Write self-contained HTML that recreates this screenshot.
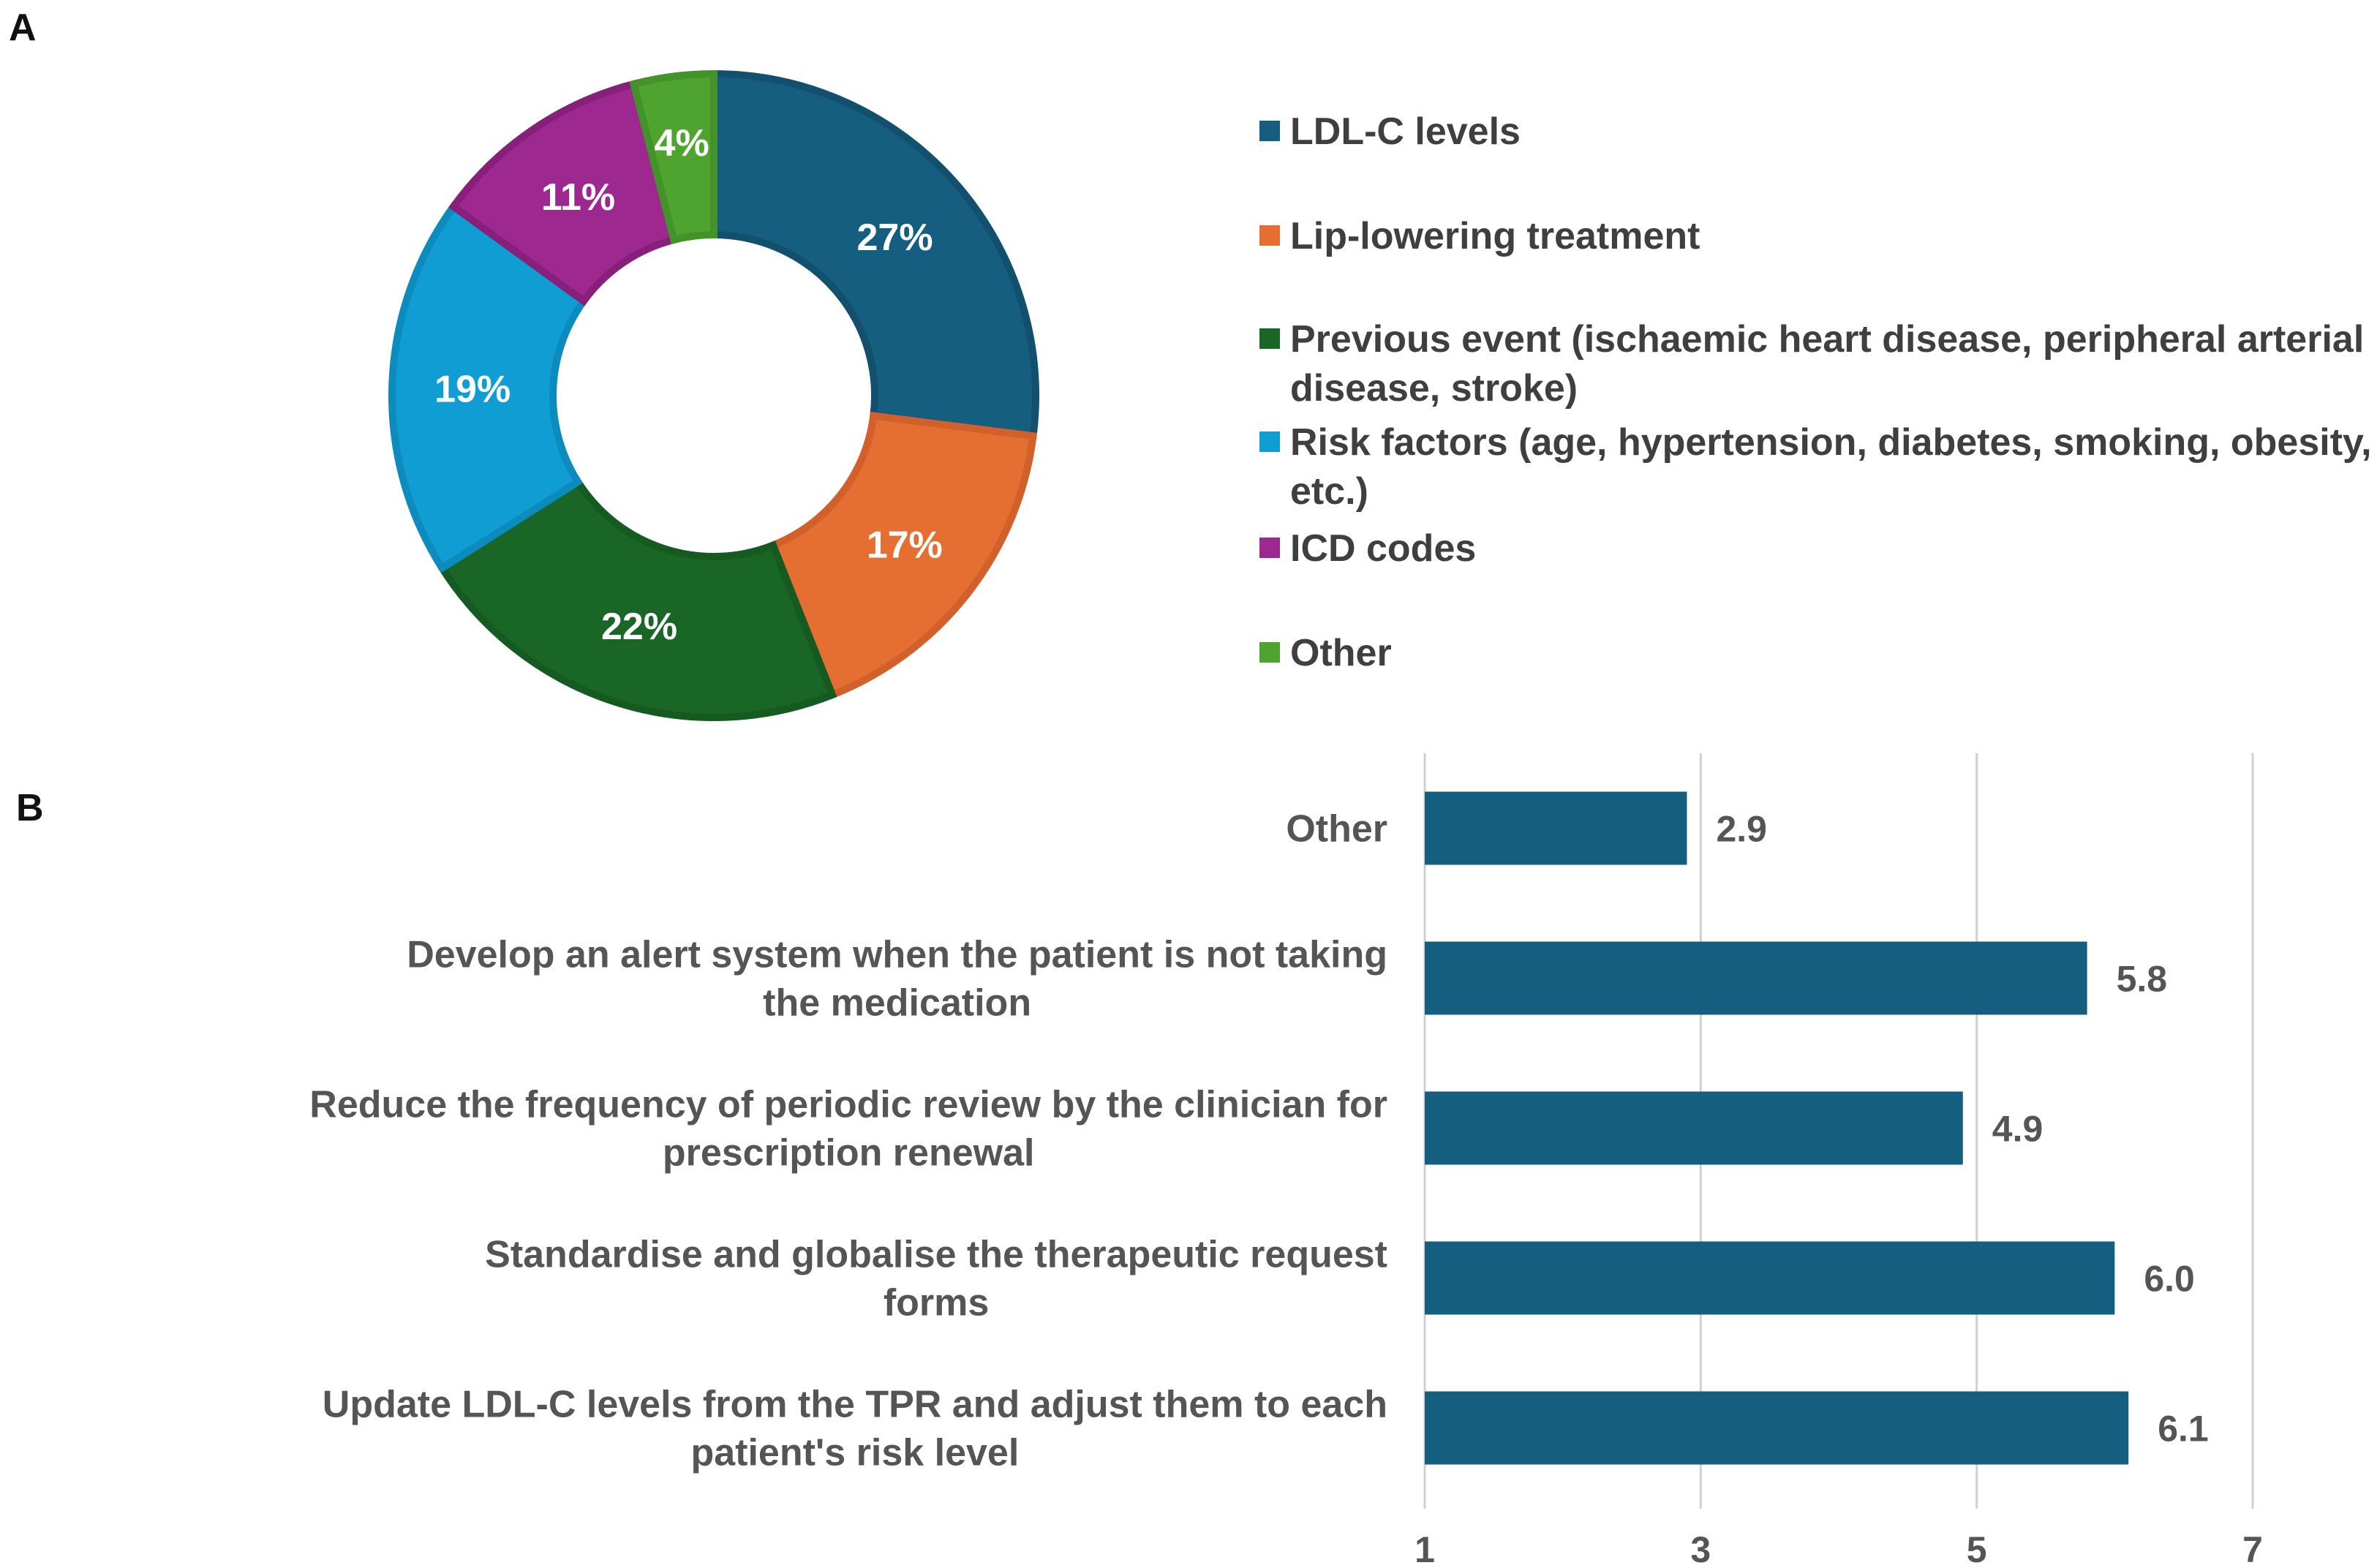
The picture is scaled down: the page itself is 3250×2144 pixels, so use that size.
<!DOCTYPE html>
<html><head><meta charset="utf-8"><style>
html,body{margin:0;padding:0;background:#fff;}
svg{display:block;font-family:"Liberation Sans",Arial,sans-serif;font-weight:bold;}
</style></head><body>
<svg id="chart" width="3250" height="2144" viewBox="0 0 3250 2144">
<text x="12" y="55" font-size="52" fill="#111">A</text>
<text x="22" y="1122" font-size="52" fill="#111">B</text>
<g id="donut"></g>
<g id="legend"></g>
<g id="bars"></g>
</svg>
<script>
const pieLabels = ["LDL-C levels","Lip-lowering treatment","Previous event","Risk factors","ICD codes","Other"];
const pieValues = [27,17,22,19,11,4];
const pieColors = ["#165e80","#e56f33","#196626","#0f9dd3","#9c2890","#4ea42e"];
const pieStroke = ["#12506e","#d2602a","#155a20","#0c8bbd","#86207b","#43922a"];
const legendLines = [["LDL-C levels"],["Lip-lowering treatment"],["Previous event (ischaemic heart disease, peripheral arterial","disease, stroke)"],["Risk factors (age, hypertension, diabetes, smoking, obesity,","etc.)"],["ICD codes"],["Other"]];
const barCats = [["Other"],["Develop an alert system when the patient is not taking","the medication"],["Reduce the frequency of periodic review by the clinician for","prescription renewal"],["Standardise and globalise the therapeutic request","forms"],["Update LDL-C levels from the TPR and adjust them to each","patient's risk level"]];
const barValues = [2.9,5.8,4.9,6.0,6.1];
const barLabels = ["2.9","5.8","4.9","6.0","6.1"];
const xTicks = [1,3,5,7];

const NS="http://www.w3.org/2000/svg";
function mk(tag,attrs,parent){const e=document.createElementNS(NS,tag);for(const k in attrs)e.setAttribute(k,attrs[k]);parent.appendChild(e);return e;}

// Donut
const donut=document.getElementById('donut');
const cx=976,cy=541,R=440,r=220;
const total=pieValues.reduce((a,b)=>a+b,0);
let a0=-Math.PI/2;
function pt(rad,a){return [cx+rad*Math.cos(a),cy+rad*Math.sin(a)];}
pieValues.forEach((v,i)=>{
  const a1=a0+v/total*2*Math.PI;
  const large=(a1-a0)>Math.PI?1:0;
  const p1=pt(R,a0),p2=pt(R,a1),p3=pt(r,a1),p4=pt(r,a0);
  const d=`M${p1[0]},${p1[1]} A${R},${R} 0 ${large} 1 ${p2[0]},${p2[1]} L${p3[0]},${p3[1]} A${r},${r} 0 ${large} 0 ${p4[0]},${p4[1]} Z`;
  const s=mk('path',{d:d,fill:pieColors[i],stroke:pieStroke[i],'stroke-width':10,'stroke-linejoin':'miter'},donut);
  
  
  const am=(a0+a1)/2, rm=(R+r)/2+(v<6?20:0);
  const lp=pt(rm,am);
  const t=mk('text',{x:lp[0],y:lp[1]+19,'font-size':52,fill:'#fff','text-anchor':'middle'},donut);
  t.textContent=v+'%';
  
  
  a0=a1;
});

// Legend
const leg=document.getElementById('legend');
const legY=[197,340,481,622,767,910];
legendLines.forEach((lines,i)=>{
  const g=mk('g',{},leg);
  
  
  const sq=mk('rect',{x:1722,y:legY[i]-32,width:28,height:28,fill:pieColors[i]},g);
  
  
  lines.forEach((ln,j)=>{
    const t=mk('text',{x:1764,y:legY[i]+j*67,'font-size':52,fill:'#3f3f3f'},g);
    t.textContent=ln;
    
    
  });
});

// Bars
const bars=document.getElementById('bars');
const x0=1948,x1=3080,vmin=1,vmax=7;
const xs=v=>x0+(v-vmin)/(vmax-vmin)*(x1-x0);
const plotTop=1030,plotBot=2055,band=(plotBot-plotTop)/barValues.length,bh=100;
xTicks.forEach(tk=>{
  const l=mk('line',{x1:xs(tk),x2:xs(tk),y1:plotTop,y2:2063,stroke:'#d0d0d0','stroke-width':3},bars);
  
  
  const t=mk('text',{x:xs(tk),y:2136,'font-size':50,fill:'#555','text-anchor':'middle'},bars);
  t.textContent=tk;
  
  
});
barValues.forEach((v,i)=>{
  const yc=plotTop+band*(i+0.5);
  const b=mk('rect',{x:xs(vmin),y:yc-bh/2,width:xs(v)-xs(vmin),height:bh,fill:'#165e80'},bars);
  
  
  const vt=mk('text',{x:xs(v)+40,y:yc+18,'font-size':50,fill:'#555'},bars);
  vt.textContent=barLabels[i];
  
  
  const lines=barCats[i];
  const n=lines.length;
  const g=mk('g',{},bars);
  
  
  const ts=lines.map((ln,j)=>{
    const t=mk('text',{x:0,y:yc+18+(j-(n-1)/2)*66,'font-size':52,fill:'#555','text-anchor':'middle'},g);
    t.textContent=ln;
    return t;
  });
  let w=0;
  ts.forEach(t=>{let l=0;try{l=t.getComputedTextLength();}catch(e){l=t.textContent.length*27;}if(l>w)w=l;});
  ts.forEach(t=>t.setAttribute('x',1897-w/2));
});
</script>
</body></html>
